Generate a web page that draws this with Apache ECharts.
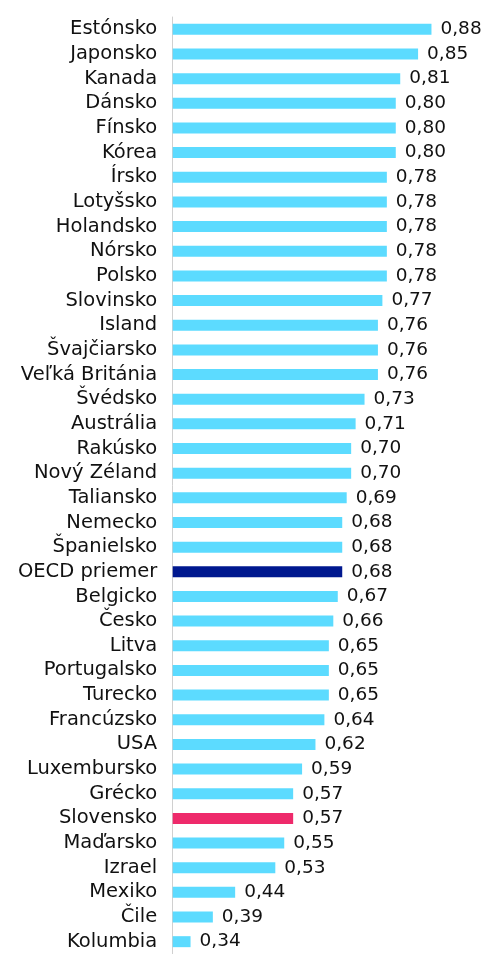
<!DOCTYPE html>
<html><head><meta charset="utf-8">
<script src="https://cdn.jsdelivr.net/npm/echarts@6/dist/echarts.min.js"></script>
<style>html,body{margin:0;padding:0;background:#fff}#c{width:485px;height:954px}</style>
</head><body><div id="c"></div>
<script>
const categories = ["Estónsko","Japonsko","Kanada","Dánsko","Fínsko","Kórea","Írsko","Lotyšsko","Holandsko","Nórsko","Polsko","Slovinsko","Island","Švajčiarsko","Veľká Británia","Švédsko","Austrália","Rakúsko","Nový Zéland","Taliansko","Nemecko","Španielsko","OECD priemer","Belgicko","Česko","Litva","Portugalsko","Turecko","Francúzsko","USA","Luxembursko","Grécko","Slovensko","Maďarsko","Izrael","Mexiko","Čile","Kolumbia"];
const values = [0.88,0.85,0.81,0.80,0.80,0.80,0.78,0.78,0.78,0.78,0.78,0.77,0.76,0.76,0.76,0.73,0.71,0.70,0.70,0.69,0.68,0.68,0.68,0.67,0.66,0.65,0.65,0.65,0.64,0.62,0.59,0.57,0.57,0.55,0.53,0.44,0.39,0.34];
const highlightOECD = "OECD priemer";
const highlightSK = "Slovensko";

const colorFor = c => c === highlightOECD ? '#00188F' : (c === highlightSK ? '#EE2A6B' : '#5CDBFF');
const chart = echarts.init(document.getElementById('c'));
const FONT = 'DejaVu Sans';
chart.setOption({
  animation: false,
  grid: {left: 172.7, right: -1.4, top: 17, bottom: -3, containLabel: false},
  xAxis: {type: 'value', min: 0.3, max: 1.0, show: false},
  yAxis: {
    type: 'category', inverse: true, data: categories,
    axisLine: {show: true, lineStyle: {color: '#d0d0d0', width: 1}},
    axisTick: {show: false},
    axisLabel: {interval: 0, color: '#111', fontSize: 19.5, fontFamily: FONT, margin: 15.5}
  },
  series: [{
    type: 'bar', barWidth: 11,
    data: categories.map((c, i) => ({value: values[i], itemStyle: {color: colorFor(c)}})),
    label: {show: true, position: 'right', distance: 9, color: '#111', fontSize: 18.5, fontFamily: FONT,
      formatter: p => p.value.toFixed(2).replace('.', ',')}
  }]
});
</script></body></html>
